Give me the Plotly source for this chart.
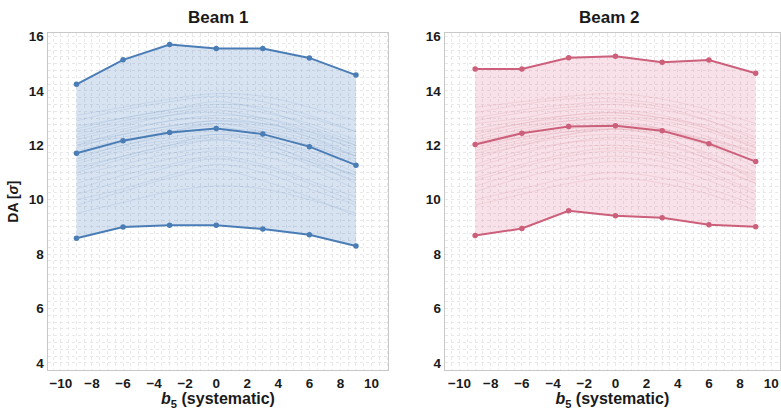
import plotly.graph_objects as go

# b5 systematic settings scanned
b5 = [-9, -6, -3, 0, 3, 6, 9]

# Beam 1 dynamic aperture envelope (max / mean / min over seeds)
beam1_max = [14.24, 15.14, 15.70, 15.56, 15.56, 15.21, 14.58]
beam1_mean = [11.71, 12.17, 12.47, 12.62, 12.41, 11.95, 11.27]
beam1_min = [8.58, 9.00, 9.06, 9.06, 8.92, 8.71, 8.30]

# Beam 2 dynamic aperture envelope
beam2_max = [14.80, 14.80, 15.22, 15.27, 15.05, 15.13, 14.65]
beam2_mean = [12.03, 12.44, 12.69, 12.72, 12.53, 12.06, 11.40]
beam2_min = [8.68, 8.94, 9.59, 9.41, 9.34, 9.08, 9.01]

# Individual seeds, Beam 1
beam1_seeds = [
    [12.9, 13.3, 13.6, 13.8, 13.6, 13.1, 12.5],
    [12.5, 12.9, 13.2, 13.4, 13.2, 12.8, 12.2],
    [12.2, 12.6, 12.9, 13.1, 13.0, 12.6, 12.0],
    [11.9, 12.4, 12.7, 12.9, 12.7, 12.3, 11.7],
    [12.0, 12.3, 12.6, 12.8, 12.5, 12.0, 11.4],
    [11.6, 12.0, 12.4, 12.6, 12.5, 12.1, 11.6],
    [11.8, 12.2, 12.5, 12.7, 12.3, 11.7, 11.0],
    [11.3, 11.8, 12.1, 12.3, 12.2, 11.8, 11.3],
    [11.0, 11.5, 11.9, 12.2, 12.0, 11.5, 10.9],
    [10.6, 11.1, 11.5, 11.8, 11.6, 11.1, 10.4],
    [10.2, 10.7, 11.2, 11.5, 11.2, 10.6, 9.9],
    [9.8, 10.3, 10.8, 11.1, 10.7, 10.1, 9.4],
    [9.5, 9.9, 10.3, 10.5, 10.4, 10.0, 9.5],
    [12.7, 13.0, 13.3, 13.5, 13.4, 13.0, 12.5],
    [12.3, 12.7, 13.1, 13.3, 13.0, 12.5, 11.8],
    [11.5, 12.0, 12.3, 12.5, 12.2, 11.6, 10.8],
    [12.1, 12.4, 12.7, 12.9, 12.8, 12.5, 12.0],
    [11.2, 11.6, 12.0, 12.4, 12.1, 11.4, 10.6],
    [10.9, 11.3, 11.7, 11.9, 11.8, 11.4, 10.9],
    [13.1, 13.4, 13.7, 13.9, 13.8, 13.4, 12.9],
    [10.4, 10.9, 11.3, 11.6, 11.3, 10.7, 10.1],
    [11.7, 12.1, 12.5, 12.8, 12.6, 12.2, 11.6],
    [12.4, 12.8, 13.1, 13.2, 12.9, 12.3, 11.6],
    [11.4, 11.9, 12.2, 12.4, 12.3, 12.0, 11.5],
    [10.0, 10.4, 10.9, 11.3, 11.0, 10.4, 9.8],
    [12.6, 13.0, 13.3, 13.6, 13.3, 12.7, 12.1],
    [11.1, 11.6, 12.0, 12.2, 11.9, 11.3, 10.7],
    [12.0, 12.5, 12.9, 13.0, 12.8, 12.4, 11.9],
]

# Individual seeds, Beam 2
beam2_seeds = [
    [13.2, 13.5, 13.7, 13.7, 13.5, 13.1, 12.5],
    [12.9, 13.2, 13.4, 13.5, 13.3, 12.9, 12.3],
    [12.6, 12.9, 13.1, 13.2, 13.0, 12.6, 12.0],
    [12.3, 12.7, 12.9, 13.0, 12.8, 12.3, 11.7],
    [12.1, 12.5, 12.8, 12.8, 12.6, 12.1, 11.4],
    [11.8, 12.2, 12.5, 12.6, 12.4, 12.0, 11.4],
    [11.6, 12.0, 12.3, 12.4, 12.2, 11.7, 11.0],
    [11.3, 11.8, 12.1, 12.2, 12.0, 11.5, 10.8],
    [11.0, 11.5, 11.9, 12.0, 11.8, 11.3, 10.6],
    [10.7, 11.2, 11.6, 11.8, 11.6, 11.0, 10.3],
    [10.3, 10.8, 11.2, 11.4, 11.2, 10.7, 10.0],
    [10.0, 10.4, 10.8, 11.0, 10.8, 10.4, 9.8],
    [13.4, 13.6, 13.8, 13.9, 13.7, 13.3, 12.8],
    [12.8, 13.0, 13.3, 13.3, 13.1, 12.6, 11.9],
    [12.4, 12.8, 13.0, 13.1, 12.9, 12.5, 11.9],
    [12.0, 12.3, 12.5, 12.7, 12.6, 12.2, 11.7],
    [11.5, 12.0, 12.4, 12.6, 12.3, 11.6, 10.7],
    [12.2, 12.6, 12.9, 12.9, 12.6, 12.0, 11.2],
    [10.8, 11.3, 11.7, 11.9, 11.7, 11.2, 10.6],
    [11.9, 12.3, 12.6, 12.7, 12.5, 12.2, 11.8],
    [10.5, 11.0, 11.4, 11.6, 11.4, 10.9, 10.2],
    [13.0, 13.3, 13.5, 13.6, 13.4, 12.9, 12.2],
    [11.2, 11.7, 12.1, 12.3, 12.1, 11.5, 10.9],
    [12.5, 12.8, 13.1, 13.2, 13.0, 12.7, 12.1],
    [9.8, 10.2, 10.6, 10.8, 10.6, 10.2, 9.6],
    [11.7, 12.1, 12.4, 12.6, 12.5, 12.1, 11.6],
]

panels = [
    dict(seeds=beam1_seeds, mx=beam1_max, mean=beam1_mean, mn=beam1_min,
         line="#4a7db5", fill="rgba(90,140,200,0.24)", seed="rgba(74,125,181,0.15)",
         xa="x", ya="y"),
    dict(seeds=beam2_seeds, mx=beam2_max, mean=beam2_mean, mn=beam2_min,
         line="#cc5f7a", fill="rgba(225,120,150,0.22)", seed="rgba(204,95,122,0.15)",
         xa="x2", ya="y2"),
]

fig = go.Figure()
for p in panels:
    common = dict(xaxis=p["xa"], yaxis=p["ya"], showlegend=False, hoverinfo="skip")
    # shaded band between min and max
    fig.add_trace(go.Scatter(x=b5, y=p["mn"], mode="lines", line=dict(width=0),
                             **common))
    fig.add_trace(go.Scatter(x=b5, y=p["mx"], mode="lines", line=dict(width=0),
                             fill="tonexty", fillcolor=p["fill"], **common))
    # faint per-seed curves
    for s in p["seeds"]:
        fig.add_trace(go.Scatter(x=b5, y=s, mode="lines", line_shape="spline",
                                 line=dict(color=p["seed"], width=0.9), **common))
    # envelope and mean with markers
    for ys in (p["mx"], p["mean"], p["mn"]):
        fig.add_trace(go.Scatter(x=b5, y=ys, mode="lines+markers",
                                 line=dict(color=p["line"], width=2),
                                 marker=dict(color=p["line"], size=5.5), **common))

GRID = "#e8e8e8"
grid = dict(showgrid=True, gridcolor=GRID, griddash="dot", gridwidth=1,
            showline=True, linecolor="#c8c8c8", linewidth=1, mirror=True,
            zeroline=False, ticks="", tickfont=dict(family="Liberation Sans", size=13.5,
                                                      color="#1a1a1a", weight="bold"))

xtitle = dict(text="<i>b</i><sub>5</sub> (systematic)",
              font=dict(family="Liberation Sans", size=16, color="#1a1a1a", weight="bold"),
              standoff=2)

for name, dom, rng in (("xaxis", [0.061, 0.498], [-10.86, 11.09]),
                       ("xaxis2", [0.570, 1.0], [-10.96, 10.56])):
    fig.layout[name] = dict(domain=dom, range=rng, tickmode="array",
                            tickvals=list(range(-10, 11, 2)),
                            minor=dict(dtick=0.5, showgrid=True, gridcolor=GRID,
                                       griddash="dot", gridwidth=1),
                            title=xtitle, **grid)

for name, anchor in (("yaxis", "x"), ("yaxis2", "x2")):
    fig.layout[name] = dict(domain=[0.10, 0.929], range=[3.73, 16.13], anchor=anchor,
                            tickmode="array", tickvals=list(range(4, 17, 2)),
                            minor=dict(dtick=0.25, showgrid=True, gridcolor=GRID,
                                       griddash="dot", gridwidth=1),
                            **grid)
fig.layout.xaxis2.anchor = "y2"
fig.layout.xaxis.anchor = "y"
fig.layout.yaxis.title = dict(text="DA [<i>σ</i>]", standoff=6,
                              font=dict(family="Liberation Sans", size=14,
                                        color="#1a1a1a", weight="bold"))

for txt, xc in (("Beam 1", 0.2795), ("Beam 2", 0.781)):
    fig.add_annotation(text=txt, x=xc, y=1 - 14 / 411, xref="paper", yref="paper",
                       showarrow=False, xanchor="center", yanchor="middle",
                       font=dict(family="Liberation Sans", size=17, color="#1a1a1a",
                                 weight="bold"))

fig.update_layout(width=781, height=411, margin=dict(l=0, r=0, t=0, b=0),
                  paper_bgcolor="white", plot_bgcolor="white")

fig.write_html("out.html")
